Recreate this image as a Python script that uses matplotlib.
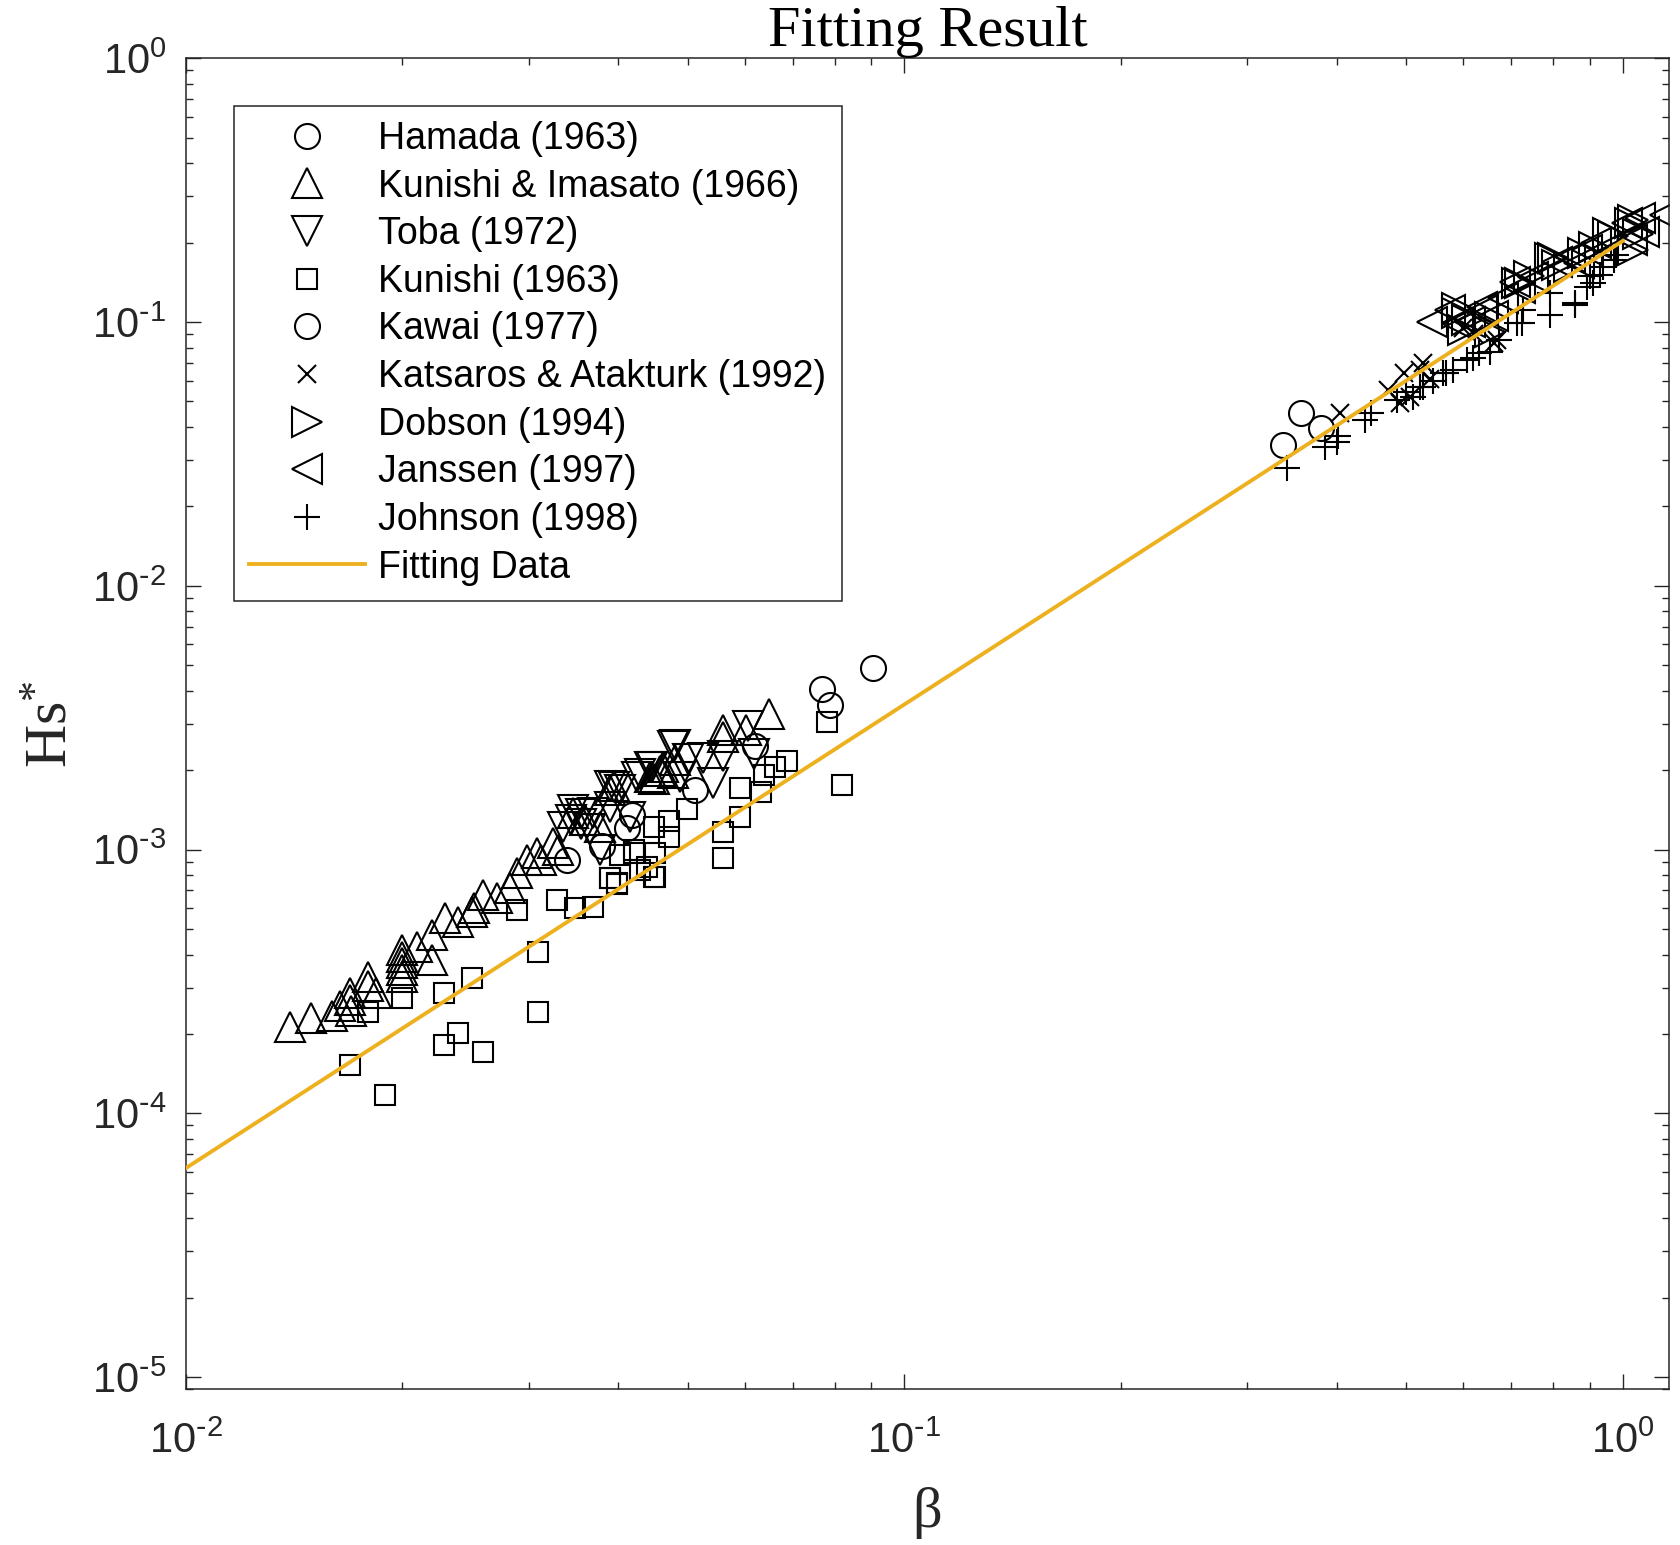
import matplotlib
matplotlib.use('Agg')
import numpy as np
import matplotlib.pyplot as plt
from matplotlib.ticker import LogLocator, NullFormatter, FuncFormatter

plt.rcParams['font.family'] = ['Liberation Sans', 'DejaVu Sans']

# ---------------- data ----------------
hamada_x = [0.0339, 0.0379, 0.0411, 0.0418, 0.0511, 0.0620]
hamada_y = [9.14e-4, 1.03e-3, 1.21e-3, 1.35e-3, 1.68e-3, 2.46e-3]

kunishi_imasato_x = [0.01397, 0.01494, 0.01597, 0.0164, 0.01693, 0.0170, 0.01693, 0.01796, 0.01796,
                     0.01842, 0.01998, 0.01998, 0.01998, 0.01998, 0.01998, 0.02097, 0.02199, 0.02199,
                     0.02296, 0.02395, 0.0250, 0.0252, 0.02596, 0.02709, 0.02828, 0.02888, 0.02982,
                     0.0308, 0.03126, 0.03249, 0.0330, 0.0346, 0.0360, 0.03773, 0.0390, 0.0395,
                     0.0443, 0.0448, 0.0457, 0.0462, 0.0477, 0.048, 0.0559, 0.0559, 0.0603, 0.0649]
kunishi_imasato_y = [2.13e-4, 2.30e-4, 2.34e-4, 2.55e-4, 2.69e-4, 2.45e-4, 2.86e-4, 3.30e-4, 3.03e-4,
                     2.86e-4, 4.17e-4, 3.93e-4, 3.71e-4, 3.50e-4, 3.30e-4, 4.29e-4, 3.82e-4, 4.75e-4,
                     5.50e-4, 5.33e-4, 5.82e-4, 6.0e-4, 6.73e-4, 6.54e-4, 7.14e-4, 8.14e-4, 9.15e-4,
                     9.69e-4, 9.15e-4, 1.06e-3, 1.0e-3, 1.38e-3, 1.30e-3, 1.22e-3, 1.68e-3, 1.74e-3,
                     1.89e-3, 1.85e-3, 1.98e-3, 2.06e-3, 1.96e-3, 2.19e-3, 2.83e-3, 2.68e-3, 2.84e-3, 3.27e-3]

toba_x = [0.0335, 0.03463, 0.0344, 0.0355, 0.0369, 0.0377, 0.0390, 0.0390, 0.0395, 0.0402, 0.0415,
          0.0424, 0.0429, 0.0443, 0.0445, 0.0477, 0.048, 0.0488, 0.050, 0.0525, 0.0542, 0.0560,
          0.0607, 0.0617, 0.0355, 0.0365]
toba_y = [1.22e-3, 1.41e-3, 1.30e-3, 1.36e-3, 1.38e-3, 1.0e-3, 1.45e-3, 1.74e-3, 1.72e-3, 1.68e-3, 1.33e-3,
          1.89e-3, 1.93e-3, 2.06e-3, 2.06e-3, 2.46e-3, 2.49e-3, 1.89e-3, 2.2e-3, 2.22e-3, 1.79e-3, 2.27e-3,
          2.93e-3, 2.3e-3, 1.25e-3, 1.2e-3]

kunishi_x = [0.01693, 0.01894, 0.01796, 0.01998, 0.02288, 0.02395, 0.02596, 0.02288, 0.0250, 0.03096,
             0.03096, 0.02888, 0.03283, 0.03482, 0.03692, 0.03895, 0.0398, 0.0390, 0.0398, 0.0402,
             0.0420, 0.0420, 0.0429, 0.0438, 0.0448, 0.0448, 0.0450, 0.0450, 0.0470, 0.0470, 0.0498,
             0.0560, 0.0560, 0.0591, 0.0591, 0.0631, 0.0637, 0.0661, 0.0686, 0.0780, 0.0818]
kunishi_y = [1.53e-4, 1.17e-4, 2.43e-4, 2.73e-4, 1.82e-4, 2.01e-4, 1.71e-4, 2.86e-4, 3.25e-4, 2.43e-4,
             4.10e-4, 5.91e-4, 6.44e-4, 6.0e-4, 6.07e-4, 7.79e-4, 7.47e-4, 7.8e-4, 7.4e-4, 9.5e-4,
             9.69e-4, 1.0e-3, 8.38e-4, 8.6e-4, 7.9e-4, 1.22e-3, 9.69e-4, 7.9e-4, 1.28e-3, 1.12e-3, 1.43e-3,
             1.17e-3, 9.28e-4, 1.71e-3, 1.33e-3, 1.66e-3, 1.92e-3, 2.06e-3, 2.16e-3, 3.05e-3, 1.76e-3]

kawai_x = [0.0768, 0.0788, 0.0906, 0.337, 0.357, 0.380]
kawai_y = [4.06e-3, 3.54e-3, 4.87e-3, 0.0342, 0.0451, 0.0396]

katsaros_x = [0.4045, 0.4718, 0.489, 0.4959, 0.505, 0.523, 0.528, 0.54, 0.661, 0.6676, 0.60, 0.62]
katsaros_y = [0.0451, 0.0553, 0.0494, 0.064, 0.052, 0.066, 0.0698, 0.061, 0.0830, 0.0855, 0.095, 0.09]

dobson_x = [0.5874, 0.587, 0.60, 0.6066, 0.6536, 0.6536, 0.712, 0.719, 0.74, 0.7924, 0.80, 0.81,
            0.8425, 0.8814, 0.9117, 0.954, 0.97, 1.0237, 1.0348, 1.0348, 1.05]
dobson_y = [0.108, 0.1128, 0.0933, 0.1019, 0.1048, 0.092, 0.140, 0.140, 0.150, 0.1745, 0.1745, 0.165,
            0.162, 0.182, 0.193, 0.217, 0.211, 0.2368, 0.2437, 0.1876, 0.215]

janssen_x = [0.542, 0.575, 0.59, 0.613, 0.637, 0.64, 0.66, 0.682, 0.708, 0.72, 0.751, 0.809, 0.845,
             0.87, 0.891, 0.917, 1.013, 1.057, 1.145, 1.07, 1.03]
janssen_y = [0.1003, 0.111, 0.098, 0.1003, 0.1144, 0.111, 0.105, 0.123, 0.142, 0.135, 0.1486, 0.1694, 0.177,
             0.168, 0.1876, 0.199, 0.2368, 0.2476, 0.255, 0.22, 0.205]

johnson_x = [0.3407, 0.3852, 0.3999, 0.401, 0.4378, 0.4464, 0.4848, 0.499, 0.51, 0.523, 0.5278, 0.545,
             0.5628, 0.568, 0.58, 0.607, 0.6196, 0.63, 0.6536, 0.672, 0.712, 0.7236, 0.726, 0.7924,
             0.7924, 0.858, 0.8583, 0.891, 0.9101, 0.93, 0.9397, 0.971, 0.98, 0.90]
johnson_y = [0.0279, 0.0337, 0.0352, 0.037, 0.0425, 0.0451, 0.0507, 0.0545, 0.052, 0.0569, 0.0569, 0.0596,
             0.064, 0.064, 0.066, 0.072, 0.0729, 0.0763, 0.0773, 0.0855, 0.099, 0.099, 0.111, 0.1064,
             0.1286, 0.116, 0.1178, 0.136, 0.140, 0.151, 0.162, 0.172, 0.18, 0.15]

fit_x = [0.01, 1.0]
fit_y = [6.2e-5, 0.203]

labels = ['Hamada (1963)', 'Kunishi & Imasato (1966)', 'Toba (1972)', 'Kunishi (1963)',
          'Kawai (1977)', 'Katsaros & Atakturk (1992)', 'Dobson (1994)', 'Janssen (1997)',
          'Johnson (1998)', 'Fitting Data']

# ---------------- figure ----------------
fig = plt.figure(figsize=(16.81, 15.45), dpi=100)
ax = fig.add_axes([0.1105, 0.1008, 0.8824, 0.8615])

series = [
    (hamada_x, hamada_y, 'o', 18),
    (kunishi_imasato_x, kunishi_imasato_y, '^', 21),
    (toba_x, toba_y, 'v', 21),
    (kunishi_x, kunishi_y, 's', 15),
    (kawai_x, kawai_y, 'o', 18),
    (katsaros_x, katsaros_y, 'x', 13),
    (dobson_x, dobson_y, '>', 21),
    (janssen_x, janssen_y, '<', 21),
    (johnson_x, johnson_y, '+', 19),
]
for (xs, ys, m, ms), lab in zip(series, labels[:-1]):
    ax.plot(xs, ys, linestyle='none', marker=m, ms=ms, mfc='none', mec='black',
            mew=1.5, label=lab)
ax.plot(fit_x, fit_y, color='#EDB120', lw=2.8, label=labels[-1], zorder=5)

ax.set_xscale('log')
ax.set_yscale('log')
ax.set_xlim(0.01, 1.16)
ax.set_ylim(9.0e-6, 1.0)


def pow_label(v, pos):
    e = int(round(np.log10(v)))
    if e < 0:
        return r'$\mathdefault{10^{\text{-}%d}}$' % (-e)
    return r'$\mathdefault{10^{%d}}$' % e


for axis in (ax.xaxis, ax.yaxis):
    axis.set_major_locator(LogLocator(base=10, subs=(1.0,), numticks=20))
    axis.set_major_formatter(FuncFormatter(pow_label))
    axis.set_minor_locator(LogLocator(base=10, subs=np.arange(2, 10), numticks=20))
    axis.set_minor_formatter(NullFormatter())

axc = '#262626'
ax.tick_params(which='both', direction='in', top=True, right=True, color=axc,
               labelcolor=axc, labelsize=30, width=1.0)
ax.tick_params(which='major', length=10.5)
ax.tick_params(which='minor', length=5)
ax.tick_params(axis='x', pad=23)
ax.tick_params(axis='y', pad=14)
for sp in ax.spines.values():
    sp.set_linewidth(1.1)
    sp.set_color(axc)

ax.set_title('Fitting Result', fontsize=42, family=['Liberation Serif'], pad=9)
ax.set_xlabel('β', fontsize=42, family=['Liberation Serif'], labelpad=18, color=axc)
ax.set_ylabel(r'$\mathdefault{Hs^{*}}$', fontsize=43, family=['Liberation Serif'],
              labelpad=9, color=axc)

leg = ax.legend(loc='upper left', bbox_to_anchor=(0.0326, 0.9642), borderaxespad=0,
                fontsize=27, handlelength=3.1, handletextpad=0.35, labelspacing=0.31,
                borderpad=0.4, frameon=True, fancybox=False, edgecolor=axc, framealpha=1)
leg.get_frame().set_linewidth(1.1)
for t in leg.get_texts():
    t.set_color('black')

fig.savefig('out.png', dpi=100)
